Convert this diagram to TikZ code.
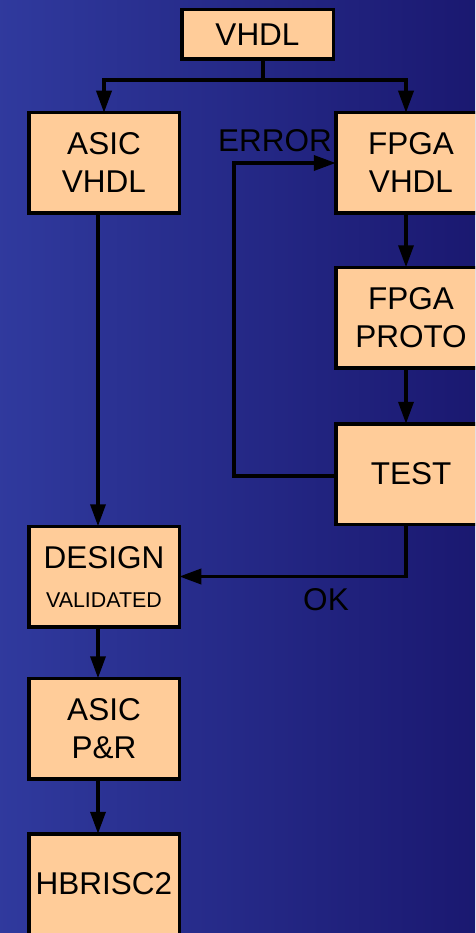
\documentclass[tikz,border=0pt]{standalone}
\usepackage{fontspec}
\setmainfont{Liberation Sans}
\usetikzlibrary{arrows.meta,calc}
\definecolor{peach}{RGB}{255,204,153}
\definecolor{bgleft}{RGB}{48,58,158}
\definecolor{bgright}{RGB}{26,24,112}
\tikzset{
  stage/.style={draw=black, line width=3.5pt, fill=peach, outer sep=0pt, inner sep=0pt,
    minimum width=150.5pt, minimum height=100.5pt, align=center,
    font=\fontsize{31.5}{38}\selectfont},
  link/.style={draw=black, line width=3.5pt, -{Triangle[length=22pt,width=15pt]}},
  plainlink/.style={draw=black, line width=3.5pt},
  tag/.style={font=\fontsize{31.5}{38}\selectfont, inner sep=0pt}
}
\begin{document}
\begin{tikzpicture}[x=1pt,y=-1pt]
  % canvas with a horizontal blue gradient
  \useasboundingbox (0,0) rectangle (475,933);
  \clip (0,0) rectangle (475,933);
  \shade[left color=bgleft, right color=bgright] (-5,-5) rectangle (480,938);

  % flow stages
  \node[stage, minimum width=151.5pt, minimum height=49.5pt] (vhdl) at (257.5,34.5) {VHDL};
  \node[stage] (asic)   at (104,163)   {ASIC\\VHDL};
  \node[stage] (fpga)   at (411,163)   {FPGA\\VHDL};
  \node[stage] (proto)  at (411,317.5) {FPGA\\PROTO};
  \node[stage] (test)   at (411,474)   {TEST};
  \node[stage] (design) at (104,576.5) {DESIGN\\[1pt]{\fontsize{21.4}{26}\selectfont VALIDATED}};
  \node[stage] (pr)     at (104,728.5) {ASIC\\P\&R};
  \node[stage] (hb)     at (104,884)   {HBRISC2};

  % labels on the feedback paths
  \node[tag] (errlbl) at (275,141) {ERROR};
  \node[tag] (oklbl)  at (326,600) {OK};

  % split from the top stage into both branches
  \coordinate (fork) at (263,80);
  \draw[plainlink] (vhdl.south -| fork) -- (fork);
  \draw[link] (fork) -| (asic.north);
  \draw[link] (fork) -| ([xshift=-5pt]fpga.north);

  % FPGA branch
  \draw[link] ([xshift=-5pt]fpga.south) -- ([xshift=-5pt]proto.north);
  \draw[link] ([xshift=-5pt]proto.south) -- ([xshift=-5pt]test.north);
  \draw[link] ([yshift=-2pt]test.west) -- ++(-102,0) |- (fpga.west);
  \draw[link] ([xshift=-5pt]test.south) |- (design.east);

  % ASIC branch
  \draw[link] ([xshift=-6pt]asic.south) -- ([xshift=-6pt]design.north);
  \draw[link] ([xshift=-6pt]design.south) -- ([xshift=-6pt]pr.north);
  \draw[link] ([xshift=-6pt]pr.south) -- ([xshift=-6pt]hb.north);
\end{tikzpicture}
\end{document}
